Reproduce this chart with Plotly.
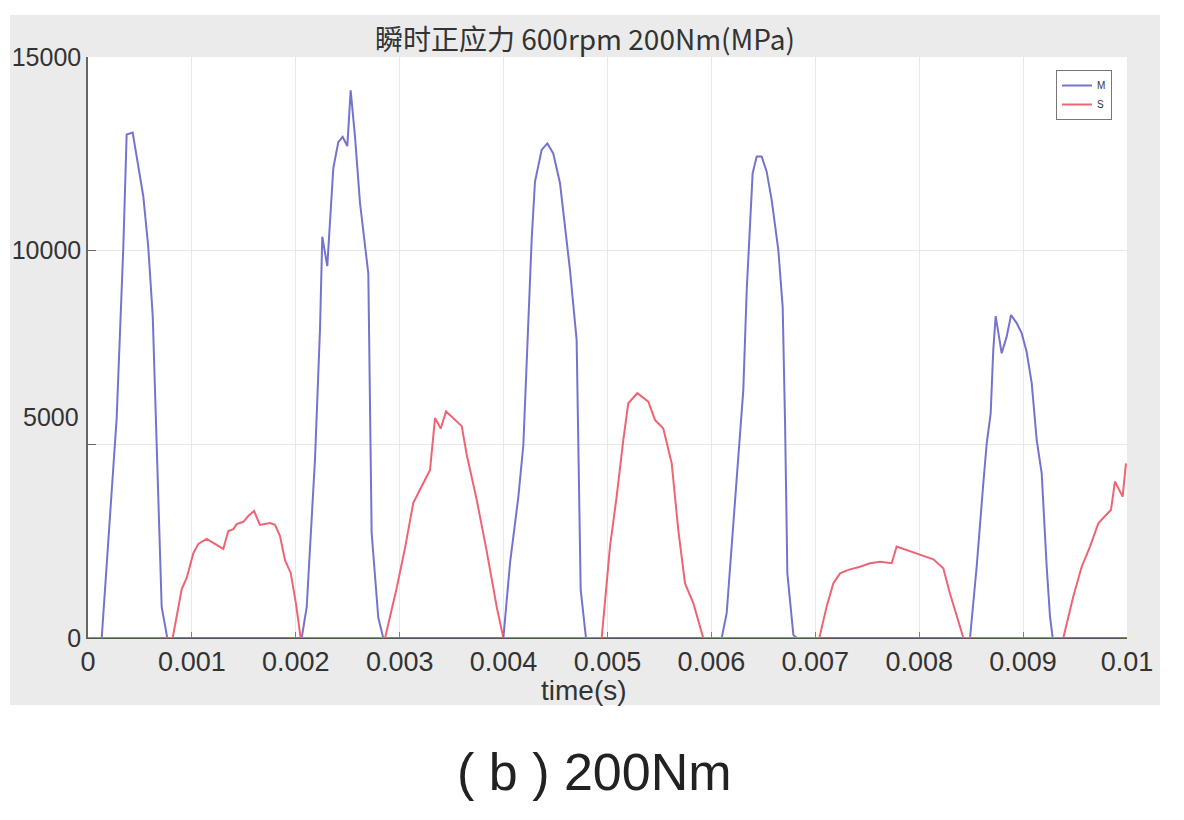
import plotly.graph_objects as go

# ---- data (time in ms, stress in MPa) ----
m_time_ms = [0.0, 0.132, 0.276, 0.340, 0.372, 0.430, 0.532, 0.580, 0.623, 0.661, 0.709, 0.763,
             2.057, 2.105, 2.185, 2.233, 2.255, 2.303, 2.361, 2.409, 2.451, 2.496, 2.528, 2.570,
             2.618, 2.698, 2.730, 2.794, 2.842,
             3.998, 4.062, 4.142, 4.190, 4.222, 4.270, 4.302, 4.366, 4.421, 4.478, 4.543, 4.639,
             4.703, 4.719, 4.742, 4.793,
             6.099, 6.147, 6.211, 6.275, 6.307, 6.340, 6.372, 6.397, 6.436, 6.484, 6.532, 6.580,
             6.644, 6.686, 6.709, 6.731, 6.789, 6.821,
             8.489, 8.553, 8.617, 8.650, 8.688, 8.713, 8.736, 8.794, 8.842, 8.884, 8.938, 8.986,
             9.034, 9.083, 9.131, 9.179, 9.227, 9.259, 9.285, 10.0]
m_stress = [0, 0, 5680, 10100, 13000, 13050, 11410, 10100, 8310, 5020, 800, 0,
            0, 800, 4620, 7980, 10360, 9600, 12130, 12800, 12940, 12700, 14140, 12940,
            11230, 9410, 2710, 520, 0,
            0, 1940, 3640, 4980, 7100, 10280, 11780, 12600, 12770, 12510, 11740, 9500,
            7690, 4940, 1240, 0,
            0, 640, 2970, 5110, 6400, 8990, 10710, 12000, 12430, 12430, 12040, 11310,
            10020, 8550, 5540, 1670, 80, 0,
            0, 1840, 3990, 5030, 5800, 7440, 8310, 7350, 7780, 8340, 8130, 7870,
            7390, 6580, 5110, 4250, 1840, 550, 0, 0]

s_time_ms = [0.0, 0.815, 0.902, 0.950, 1.014, 1.062, 1.142, 1.222, 1.302, 1.350, 1.399, 1.431,
             1.495, 1.543, 1.598, 1.655, 1.752, 1.800, 1.848, 1.896, 1.951, 2.002, 2.047,
             2.859, 2.971, 3.051, 3.131, 3.228, 3.292, 3.340, 3.395, 3.446, 3.516, 3.597, 3.645,
             3.741, 3.837, 3.934, 3.998,
             4.944, 5.024, 5.088, 5.152, 5.200, 5.287, 5.345, 5.393, 5.457, 5.537, 5.618, 5.681,
             5.746, 5.826, 5.922,
             7.039, 7.109, 7.173, 7.238, 7.318, 7.430, 7.526, 7.623, 7.735, 7.783, 7.880, 7.976,
             8.056, 8.136, 8.232, 8.296, 8.393, 8.425,
             9.387, 9.435, 9.483, 9.564, 9.644, 9.724, 9.788, 9.846, 9.884, 9.916, 9.958, 9.990]
s_stress = [0, 0, 1265, 1550, 2190, 2430, 2560, 2430, 2300, 2760, 2810, 2940,
            3000, 3150, 3280, 2920, 2970, 2920, 2630, 2010, 1680, 880, 0,
            0, 1290, 2320, 3490, 4000, 4340, 5680, 5410, 5850, 5680, 5470, 4730,
            3570, 2250, 800, 0,
            0, 2360, 3650, 5110, 6060, 6320, 6190, 6100, 5630, 5410, 4510, 2790,
            1410, 900, 0,
            0, 810, 1410, 1670, 1760, 1840, 1930, 1970, 1930, 2360, 2270, 2190,
            2100, 2030, 1800, 1150, 290, 0,
            0, 550, 1070, 1840, 2360, 2960, 3130, 3310, 4040, 3870, 3650, 4510]

x_tick_vals = [0, 0.001, 0.002, 0.003, 0.004, 0.005, 0.006, 0.007, 0.008, 0.009, 0.01]
x_tick_text = ["0", "0.001", "0.002", "0.003", "0.004", "0.005", "0.006", "0.007", "0.008", "0.009", "0.01"]
y_tick_vals = [0, 5000, 10000, 15000]
y_tick_text = ["0", "", "10000", "15000"]

title_text = "瞬时正应力 600rpm 200Nm(MPa)"
caption_text = "( b ) 200Nm"
x_title = "time(s)"

m_time = [t / 1000 for t in m_time_ms]
s_time = [t / 1000 for t in s_time_ms]

BLUE = "#7474cf"
RED = "#ee6475"
FONT = "Liberation Sans, Arial, sans-serif"
CJK = "Noto Sans CJK SC, sans-serif"

# page body has an 8px margin: work in reference coordinates, shift by OFF
OFF = 8
W, H = 1184 - 2 * OFF, 820 - 2 * OFF
L, R, T, B = 88 - OFF, 1127 - OFF, 57 - OFF, 638 - OFF
pw, ph = R - L, B - T

def px(xref_px):
    return (xref_px - OFF - L) / pw

def py(yref_px):
    return (B - (yref_px - OFF)) / ph

fig = go.Figure()
fig.add_trace(go.Scatter(x=m_time, y=m_stress, mode="lines", name="M",
                         line=dict(color=BLUE, width=2)))
fig.add_trace(go.Scatter(x=s_time, y=s_stress, mode="lines", name="S",
                         line=dict(color=RED, width=2)))

fig.update_layout(
    width=W, height=H,
    margin=dict(l=L, r=W - R, t=T, b=H - B, autoexpand=False),
    paper_bgcolor="white",
    plot_bgcolor="white",
    showlegend=True,
    legend=dict(x=px(1112), y=py(70), xanchor="right", yanchor="top",
                bgcolor="white", bordercolor="#777", borderwidth=1,
                font=dict(family=FONT, size=10, color="#333"),
                tracegroupgap=0, itemwidth=30),
    shapes=[
        dict(type="rect", xref="paper", yref="paper", layer="below",
             x0=px(10), x1=px(1160), y0=py(705), y1=py(15),
             fillcolor="#ebebeb", line=dict(width=0)),
        dict(type="rect", xref="paper", yref="paper", layer="below",
             x0=0, x1=1, y0=0, y1=1,
             fillcolor="white", line=dict(width=0)),
    ],
    annotations=[
        dict(text=title_text, xref="paper", yref="paper", x=px(585), y=py(38),
             showarrow=False, font=dict(family=CJK, size=28, color="#333"),
             xanchor="center", yanchor="middle"),
        dict(text=x_title, xref="paper", yref="paper", x=px(584), y=py(690),
             showarrow=False, font=dict(family=FONT, size=28, color="#333"),
             xanchor="center", yanchor="middle"),
        dict(text="5000", xref="paper", yref="y", x=0, y=5000, yshift=27, xshift=-7,
             showarrow=False, font=dict(family=FONT, size=25, color="#333"),
             xanchor="right", yanchor="middle"),
        dict(text=caption_text, xref="paper", yref="paper", x=px(594), y=py(772),
             showarrow=False, font=dict(family=FONT, size=52, color="#222"),
             xanchor="center", yanchor="middle"),
    ],
)

fig.update_xaxes(range=[0, 0.01], tickvals=x_tick_vals, ticktext=x_tick_text,
                 automargin=False,
                 showgrid=True, gridcolor="#e8e8e8", gridwidth=1,
                 showline=True, linecolor="#555", linewidth=1,
                 ticks="inside", ticklen=6, tickcolor="#6a8a6a",
                 tickfont=dict(family=FONT, size=27, color="#333"),
                 zeroline=False)
fig.update_yaxes(range=[0, 15000], tickvals=y_tick_vals, ticktext=y_tick_text,
                 automargin=False,
                 showgrid=True, gridcolor="#e8e8e8", gridwidth=1,
                 showline=True, linecolor="#666", linewidth=1.5,
                 ticks="inside", ticklen=8, tickcolor="#666",
                 tickfont=dict(family=FONT, size=25, color="#333"),
                 zeroline=False)

fig.write_html("out.html")
